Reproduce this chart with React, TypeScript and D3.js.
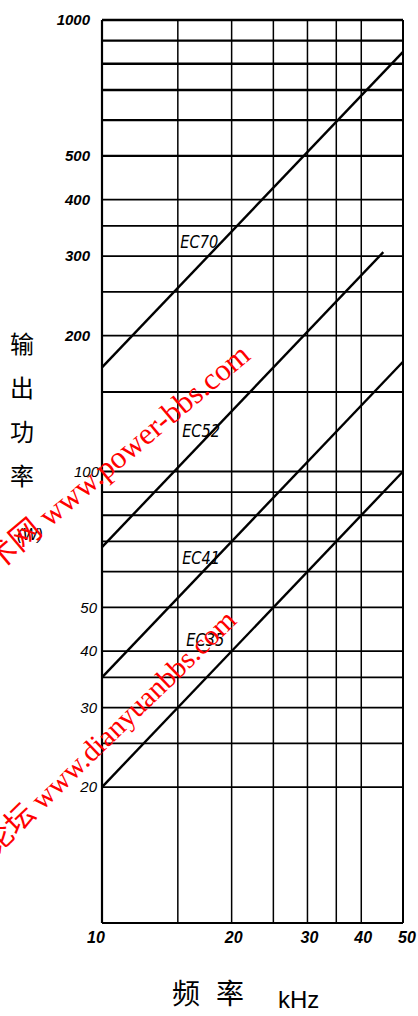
import React from "react";
import * as d3 from "d3";

const W = 418;
const H = 1016;

// Axes values
const xDomain = [10, 50];
const yDomain = [10, 1000];
const xTickLabels = [10, 20, 30, 40, 50];
const xGridValues = [15, 20, 25, 30, 35, 40];
const yTickLabels = [1000, 500, 400, 300, 200, 100, 50, 40, 30, 20];
const yBoldLabels = [1000, 500, 400, 300, 200];
const yGridValues = [900, 800, 700, 600, 500, 400, 350, 300, 250, 200, 150, 100, 90, 80, 70, 60, 50, 40, 35, 30, 25, 20];

// Series: [frequency kHz, output power W]
const seriesNames = ["EC70", "EC52", "EC41", "EC35"];
const ec70 = [[10, 170], [50, 850]];
const ec52 = [[10, 68], [45, 306]];
const ec41 = [[10, 35], [50, 175]];
const ec35 = [[10, 20], [50, 100]];
const seriesData = [ec70, ec52, ec41, ec35];
// label anchor points (frequency, power)
const labelPoints = [[15.2, 312], [15.35, 119], [15.35, 62.5], [15.7, 41]];

const yTitleChars = ["输", "出", "功", "率"];

export default function App() {
  const left = 102, right = 403, top = 20, bottom = 923;
  const x = d3.scaleLog().domain(xDomain).range([left, right]);
  const y = d3.scaleLog().domain(yDomain).range([bottom, top]);
  const line = d3.line<number[]>().x(d => x(d[0])).y(d => y(d[1]));
  const tickFont = "'Liberation Sans', 'DejaVu Sans', sans-serif";

  return (
    <svg width={W} height={H} style={{ position: "absolute", left: 0, top: 0, background: "#fff" }}>
      <rect x={0} y={0} width={W} height={H} fill="#fff" />
      {/* horizontal grid */}
      {yGridValues.map(v => (
        <line key={"h" + v} x1={left} x2={right} y1={y(v)} y2={y(v)}
          stroke="#000" strokeWidth={v >= 500 ? 2.4 : 1.8} />
      ))}
      {/* vertical grid */}
      {xGridValues.map(v => (
        <line key={"v" + v} x1={x(v)} x2={x(v)} y1={top} y2={bottom}
          stroke="#000" strokeWidth={1.5} />
      ))}
      {/* frame */}
      <line x1={left} x2={right} y1={top} y2={top} stroke="#000" strokeWidth={2.6} />
      <line x1={left} x2={right} y1={bottom} y2={bottom} stroke="#000" strokeWidth={2.2} />
      <line x1={left} x2={left} y1={top} y2={bottom} stroke="#000" strokeWidth={2.2} />
      <line x1={right} x2={right} y1={top} y2={bottom} stroke="#000" strokeWidth={2} />

      {/* series */}
      {seriesData.map((d, i) => (
        <path key={seriesNames[i]} d={line(d) || ""} fill="none" stroke="#000" strokeWidth={2.4} />
      ))}
      {seriesNames.map((n, i) => (
        <text key={"l" + n} x={x(labelPoints[i][0])} y={y(labelPoints[i][1])}
          fontFamily="'DejaVu Sans Condensed', 'Liberation Sans Narrow', sans-serif" fontStyle="italic"
          fontSize={18} textLength={38} lengthAdjust="spacingAndGlyphs" fill="#000">{n}</text>
      ))}

      {/* y tick labels */}
      {yTickLabels.map(v => (
        <text key={"yt" + v} x={v === 100 ? 99 : (v >= 200 ? 90 : 97)} y={y(v)} dy="0.35em"
          textAnchor="end" fontFamily={tickFont} fontStyle="italic"
          fontWeight={yBoldLabels.includes(v) ? "bold" : "normal"} fontSize={15} fill="#000">{v}</text>
      ))}
      {/* x tick labels */}
      {xTickLabels.map(v => (
        <text key={"xt" + v} x={v === 10 ? x(v) - 6 : (v === 50 ? x(v) + 4 : x(v) + 2)} y={943}
          textAnchor="middle" fontFamily={tickFont} fontStyle="italic" fontWeight="bold"
          fontSize={16} fill="#000">{v}</text>
      ))}

      {/* y title */}
      {yTitleChars.map((c, i) => (
        <text key={"yc" + i} x={22} y={345 + i * 44} dy="0.35em" textAnchor="middle"
          fontFamily="'Noto Sans CJK SC', sans-serif" fontSize={24} fill="#000">{c}</text>
      ))}
      <text x={30} y={540} textAnchor="middle" fontFamily={tickFont} fontStyle="italic"
        fontSize={16} fill="#000">(W)</text>

      {/* x title */}
      <text x={186} y={994} dy="0.35em" textAnchor="middle" fontFamily="'Noto Sans CJK SC', sans-serif"
        fontSize={28} fill="#000">频</text>
      <text x={230} y={994} dy="0.35em" textAnchor="middle" fontFamily="'Noto Sans CJK SC', sans-serif"
        fontSize={28} fill="#000">率</text>
      <text x={278} y={1008} fontFamily={tickFont} fontSize={24} fill="#000">kHz</text>

      {/* watermarks */}
      <text x={252} y={358} textAnchor="end" transform="rotate(-40 252 358)"
        fontFamily="'Liberation Serif', 'Noto Sans CJK SC', serif" fontSize={31} fill="#ff0000">电源技术网 www.power-bbs.com</text>
      <text x={238} y={622} textAnchor="end" transform="rotate(-44 238 622)"
        fontFamily="'Liberation Serif', 'Noto Sans CJK SC', serif" fontSize={29} fill="#ff0000">电源网论坛 www.dianyuanbbs.com</text>
    </svg>
  );
}
